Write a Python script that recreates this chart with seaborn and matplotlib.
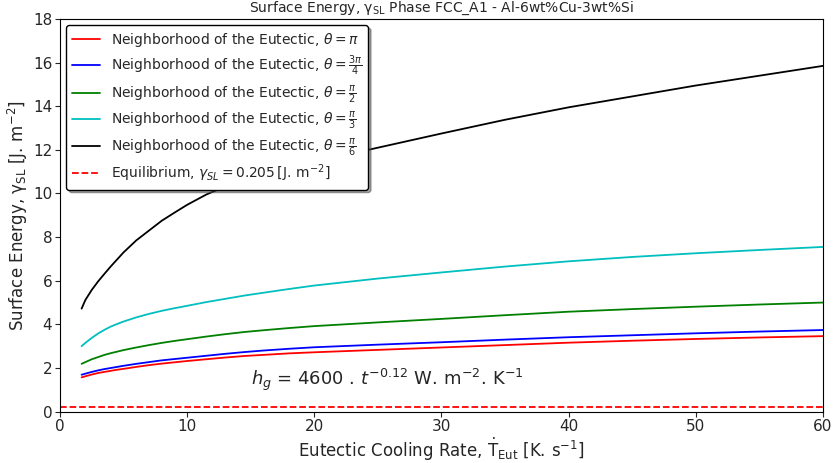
import numpy as np
import pandas as pd
import matplotlib
matplotlib.use("Agg")
import matplotlib.pyplot as plt
import seaborn as sns

sns.set_style("ticks")
plt.rcParams["font.family"] = ["DejaVu Sans"]
plt.rcParams["mathtext.fontset"] = "dejavusans"

# Eutectic cooling rate [K/s]
cooling_rate = [1.7, 2, 2.5, 3, 3.5, 4, 4.5, 5, 6, 7, 8, 9, 10, 11.5, 13, 14.5, 16, 18,
                20, 25, 30, 35, 40, 45, 50, 55, 60]

# Surface energy [J/m^2] for each wetting angle
gamma_pi = [1.57, 1.62, 1.70, 1.77, 1.82, 1.87, 1.92, 1.96, 2.05, 2.13, 2.20, 2.26, 2.32,
            2.40, 2.48, 2.55, 2.60, 2.67, 2.72, 2.83, 2.94, 3.05, 3.16, 3.25, 3.33, 3.40, 3.46]
gamma_3pi4 = [1.69, 1.74, 1.82, 1.89, 1.95, 2.00, 2.05, 2.10, 2.19, 2.27, 2.35, 2.41, 2.47,
              2.56, 2.65, 2.73, 2.80, 2.88, 2.95, 3.07, 3.18, 3.30, 3.41, 3.50, 3.59, 3.67, 3.74]
gamma_pi2 = [2.19, 2.27, 2.40, 2.50, 2.60, 2.68, 2.75, 2.82, 2.94, 3.05, 3.15, 3.24, 3.32,
             3.44, 3.55, 3.65, 3.73, 3.83, 3.92, 4.09, 4.25, 4.42, 4.58, 4.70, 4.81, 4.91, 5.00]
gamma_pi3 = [3.00, 3.15, 3.38, 3.58, 3.75, 3.90, 4.02, 4.13, 4.32, 4.48, 4.62, 4.74, 4.85,
             5.02, 5.17, 5.32, 5.45, 5.62, 5.78, 6.10, 6.38, 6.65, 6.89, 7.09, 7.26, 7.41, 7.55]
gamma_pi6 = [4.72, 5.12, 5.58, 5.97, 6.32, 6.66, 6.98, 7.30, 7.85, 8.30, 8.75, 9.12, 9.48,
             9.95, 10.32, 10.65, 10.95, 11.22, 11.45, 12.10, 12.75, 13.38, 13.95, 14.45,
             14.95, 15.40, 15.85]

gamma_equilibrium = 0.205

series_labels = [
    r"Neighborhood of the Eutectic, $\theta = \pi$",
    r"Neighborhood of the Eutectic, $\theta = \frac{3\pi}{4}$",
    r"Neighborhood of the Eutectic, $\theta = \frac{\pi}{2}$",
    r"Neighborhood of the Eutectic, $\theta = \frac{\pi}{3}$",
    r"Neighborhood of the Eutectic, $\theta = \frac{\pi}{6}$",
]
series_values = [gamma_pi, gamma_3pi4, gamma_pi2, gamma_pi3, gamma_pi6]
series_colors = ["red", "blue", "green", "c", "black"]

fig = plt.figure(figsize=(8.33, 4.63), dpi=100)
ax = fig.add_axes([0.072, 0.111, 0.916, 0.848])

for label, values, color in zip(series_labels, series_values, series_colors):
    sns.lineplot(x=cooling_rate, y=values, color=color, label=label, ax=ax, linewidth=1.3)

ax.axhline(gamma_equilibrium, color="red", linestyle="--", linewidth=1.3,
           label=r"Equilibrium, $\gamma_{SL} = 0.205\,[\mathrm{J.\,m^{-2}}]$")

ax.set_xlim(0, 60)
ax.set_ylim(0, 18)
ax.set_xticks(np.arange(0, 61, 10))
ax.set_yticks(np.arange(0, 19, 2))
ax.tick_params(labelsize=11, pad=2)

for side in ["top", "right", "left", "bottom"]:
    ax.spines[side].set_visible(True)
    ax.spines[side].set_color("black")

ax.set_title(r"Surface Energy, $\mathrm{\gamma_{SL}}$ Phase FCC_A1 - Al-6wt%Cu-3wt%Si",
             fontsize=10, pad=5)
ax.set_xlabel(r"Eutectic Cooling Rate, $\mathrm{\dot{T}_{Eut}}$ [K$.\,$s$^{-1}$]",
              fontsize=12, labelpad=1)
ax.set_ylabel(r"Surface Energy, $\mathrm{\gamma_{SL}}$ [J$.\,$m$^{-2}$]", fontsize=12, labelpad=2)

ax.text(15, 1.45, r"$h_g$ = 4600 . $t^{-0.12}$ W$.\,$m$^{-2}$$.\,$K$^{-1}$", fontsize=13,
        va="center")

leg = ax.legend(loc="upper left", fontsize=10, frameon=True, shadow=True, fancybox=True,
                framealpha=1, edgecolor="black", labelspacing=0.35, borderaxespad=0.45)

fig.savefig("out.png", dpi=100)
